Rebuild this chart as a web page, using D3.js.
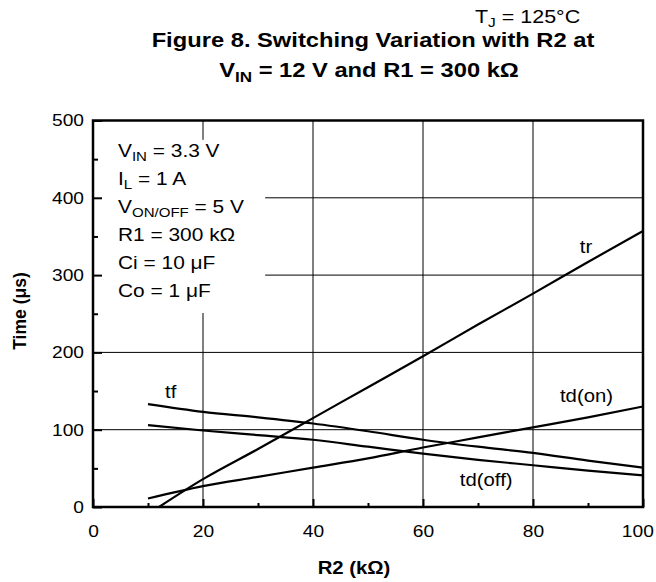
<!DOCTYPE html>
<html lang="en">
<head>
    <meta charset="UTF-8">
    <title>Figure 8. Switching Variation with R2</title>
    <script src="https://d3js.org/d3.v7.min.js"></script>
    <style>
        body { margin: 0; background: #fff; }
        text { font-family: "Liberation Sans", Arial, Helvetica, sans-serif; fill: #000; }
    </style>
</head>
<body>
    <div id="chart"></div>

    <script>
        // data (R2 in kOhm, time in us)
        const r2 = [10, 20, 30, 40, 50, 60, 70, 80, 90, 100];
        const tfVals = [133, 123, 116, 108, 98, 87, 78, 70, 60, 51];
        const tdOffVals = [106, 99, 93, 87, 78, 69, 61, 54, 47, 41];
        const tdOnVals = [11, 27, 39, 51, 63, 77, 90, 103, 116, 130];
        // tr starts a bit right of 10k, where it leaves the zero line
        const trR2 = [12, 20, 30, 40, 50, 60, 70, 80, 90, 100];
        const trVals = [0, 36, 75, 115, 155, 195, 236, 276, 317, 357];

        const xTicks = [0, 20, 40, 60, 80, 100];
        const xMinor = [10, 30, 50, 70, 90];
        const yTicks = [0, 100, 200, 300, 400, 500];
        const yMinor = [50, 150, 250, 350, 450];

        const conditions = [
            [["V"], ["IN", true], [" = 3.3 V"]],
            [["I"], ["L", true], [" = 1 A"]],
            [["V"], ["ON/OFF", true], [" = 5 V"]],
            [["R1 = 300 k\u03A9"]],
            [["Ci = 10 \u03BCF"]],
            [["Co = 1 \u03BCF"]]
        ];

        const W = 656, H = 582;
        const SX = 1.13; // the original lettering is a bit wider than Arial

        const svg = d3.select("#chart").append("svg")
            .attr("width", W)
            .attr("height", H);

        const x = d3.scaleLinear().domain([0, 100]).range([93, 643]);
        const y = d3.scaleLinear().domain([0, 500]).range([507, 120.5]);

        // text helper: parts are [string, isSubscript]
        function label(parent, px, py, parts, size, opts = {}) {
            const sx = opts.sx || SX;
            const g = parent.append("g")
                .attr("transform", `translate(${px},${py}) rotate(${opts.rotate || 0}) scale(${sx},1)`);
            const t = g.append("text")
                .attr("text-anchor", opts.anchor || "start")
                .attr("font-size", size)
                .attr("font-weight", opts.bold ? "bold" : "normal");
            let shifted = false;
            parts.forEach(p => {
                const sp = t.append("tspan").text(p[0]);
                if (p[1]) {
                    sp.attr("font-size", size * 0.72).attr("dy", size * 0.22);
                    shifted = true;
                } else if (shifted) {
                    sp.attr("dy", -size * 0.22);
                    shifted = false;
                }
            });
            return t;
        }

        // grid
        svg.append("g").selectAll("line")
            .data([20, 40, 60, 80])
            .join("line")
            .attr("x1", d => x(d)).attr("x2", d => x(d))
            .attr("y1", y(0)).attr("y2", y(500))
            .attr("stroke", "#000").attr("stroke-width", 1);

        svg.append("g").selectAll("line")
            .data([100, 200, 300, 400])
            .join("line")
            .attr("x1", x(0)).attr("x2", x(100))
            .attr("y1", d => y(d)).attr("y2", d => y(d))
            .attr("stroke", "#000").attr("stroke-width", 1);

        // white box behind the test conditions
        svg.append("rect")
            .attr("x", x(0))
            .attr("y", y(475))
            .attr("width", x(31.3) - x(0))
            .attr("height", y(251) - y(475))
            .attr("fill", "#fff");

        // axes, ticks point inwards
        const xAxis = svg.append("g")
            .attr("transform", `translate(0,${y(0)})`)
            .call(d3.axisBottom(x).tickValues(xTicks).tickSize(-8).tickPadding(18));
        svg.append("g")
            .attr("transform", `translate(0,${y(0)})`)
            .call(d3.axisBottom(x).tickValues(xMinor).tickSize(-4).tickFormat(""));

        const yAxis = svg.append("g")
            .attr("transform", `translate(${x(0)},0)`)
            .call(d3.axisLeft(y).tickValues(yTicks).tickSize(-9).tickPadding(9));
        svg.append("g")
            .attr("transform", `translate(${x(0)},0)`)
            .call(d3.axisLeft(y).tickValues(yMinor).tickSize(-5).tickFormat(""));

        svg.selectAll(".domain").remove();
        svg.selectAll(".tick line").attr("stroke", "#000").attr("stroke-width", 2);
        svg.selectAll(".tick text")
            .attr("font-family", "\"Liberation Sans\", Arial, sans-serif")
            .attr("font-size", 17)
            .attr("fill", "#000");
        xAxis.selectAll(".tick text")
            .attr("transform", `scale(${SX},1)`)
            .attr("dx", d => d === 100 ? -5 : 0);
        yAxis.selectAll(".tick text")
            .attr("x", -9 / SX)
            .attr("transform", `scale(${SX},1)`);

        // frame
        svg.append("rect")
            .attr("x", x(0)).attr("y", y(500))
            .attr("width", x(100) - x(0))
            .attr("height", y(0) - y(500))
            .attr("fill", "none")
            .attr("stroke", "#000")
            .attr("stroke-width", 2.5);

        // curves
        const line = d3.line()
            .x(d => x(d[0]))
            .y(d => y(d[1]))
            .curve(d3.curveMonotoneX);

        const series = [
            d3.zip(r2, tfVals),
            d3.zip(r2, tdOffVals),
            d3.zip(r2, tdOnVals),
            d3.zip(trR2, trVals)
        ];

        svg.append("g").selectAll("path")
            .data(series)
            .join("path")
            .attr("d", line)
            .attr("fill", "none")
            .attr("stroke", "#000")
            .attr("stroke-width", 2.2);

        // curve labels, placed in data units
        label(svg, x(13.1), y(141), [["tf"]], 18);
        label(svg, x(88.5), y(328.6), [["tr"]], 18);
        label(svg, x(84.9), y(136), [["td(on)"]], 18);
        label(svg, x(66.7), y(27), [["td(off)"]], 18);

        // test conditions
        conditions.forEach((c, i) => {
            label(svg, 118, 157 + i * 28, c, 18.5);
        });

        // titles
        label(svg, 475, 23, [["T"], ["J", true], [" = 125\u00B0C"]], 19);
        label(svg, 373, 47, [["Figure 8. Switching Variation with R2 at"]], 21,
            { anchor: "middle", bold: true });
        label(svg, 369, 77, [["V"], ["IN", true], [" = 12 V and R1 = 300 k\u03A9"]], 21,
            { anchor: "middle", bold: true });

        // axis titles
        label(svg, 354, 574, [["R2 (k\u03A9)"]], 18, { anchor: "middle", bold: true });
        label(svg, 26, 311, [["Time (\u03BCs)"]], 17.5, { anchor: "middle", bold: true, rotate: -90, sx: 1 });
    </script>
</body>
</html>
